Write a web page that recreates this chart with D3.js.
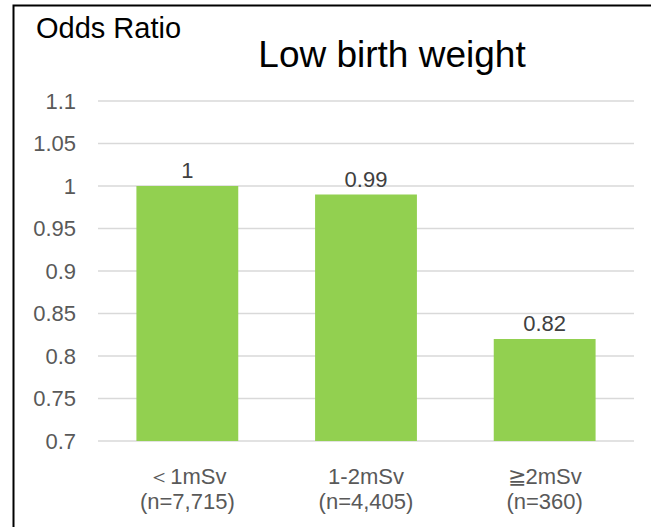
<!DOCTYPE html>
<html><head><meta charset="utf-8">
<script src="https://cdn.jsdelivr.net/npm/d3@7"></script>
<style>body{margin:0;background:#fff}svg{display:block;font-family:"Liberation Sans",Arial,sans-serif}</style>
</head><body>
<svg id="c" width="651" height="527"></svg>
<script>
const categories = ["＜1mSv", "1-2mSv", "≧2mSv"];
const sampleSizes = ["(n=7,715)", "(n=4,405)", "(n=360)"];
const values = [1, 0.99, 0.82];
const valueLabels = ["1", "0.99", "0.82"];
const yTicks = [0.7, 0.75, 0.8, 0.85, 0.9, 0.95, 1, 1.05, 1.1];
const tickLabels = ["0.7", "0.75", "0.8", "0.85", "0.9", "0.95", "1", "1.05", "1.1"];

const svg = d3.select("#c");
svg.append("path").attr("d", "M13.5,527 V5.5 H651").attr("fill", "none").attr("stroke", "#000").attr("stroke-width", 2);

const x = d3.scaleBand().domain(categories).range([98, 634]).paddingInner(0.43).paddingOuter(0.215);
const y = d3.scaleLinear().domain([0.7, 1.1]).range([441, 101]);

const g = svg.append("g");
g.selectAll("line.grid").data(yTicks).join("line").attr("class", "grid")
  .attr("x1", 98).attr("x2", 634).attr("y1", d => y(d)).attr("y2", d => y(d))
  .attr("stroke", "#d9d9d9").attr("stroke-width", 1.3);

g.selectAll("text.tick").data(yTicks).join("text").attr("class", "tick")
  .attr("x", 76).attr("y", d => y(d)).attr("dy", "0.36em").attr("text-anchor", "end")
  .attr("fill", "#595959").attr("font-size", 22).text((d, i) => tickLabels[i]);

g.selectAll("rect").data(values).join("rect")
  .attr("x", (d, i) => x(categories[i])).attr("width", x.bandwidth())
  .attr("y", d => y(d)).attr("height", d => y(0.7) - y(d)).attr("fill", "#92D050");

g.selectAll("text.val").data(values).join("text").attr("class", "val")
  .attr("x", (d, i) => x(categories[i]) + x.bandwidth() / 2).attr("y", d => y(d) - 8)
  .attr("text-anchor", "middle").attr("fill", "#404040").attr("font-size", 22)
  .text((d, i) => valueLabels[i]);

g.selectAll("text.cat").data(categories).join("text").attr("class", "cat")
  .attr("x", d => x(d) + x.bandwidth() / 2).attr("y", 484)
  .attr("text-anchor", "middle").attr("fill", "#595959").attr("font-size", 22).text(d => d);
g.selectAll("text.n").data(sampleSizes).join("text").attr("class", "n")
  .attr("x", (d, i) => x(categories[i]) + x.bandwidth() / 2).attr("y", 509)
  .attr("text-anchor", "middle").attr("fill", "#595959").attr("font-size", 22).text(d => d);

svg.append("text").attr("x", 36).attr("y", 38).attr("font-size", 29).attr("fill", "#000").text("Odds Ratio");
svg.append("text").attr("x", 392).attr("y", 67).attr("text-anchor", "middle").attr("font-size", 37).attr("fill", "#000").text("Low birth weight");
</script>
</body></html>
